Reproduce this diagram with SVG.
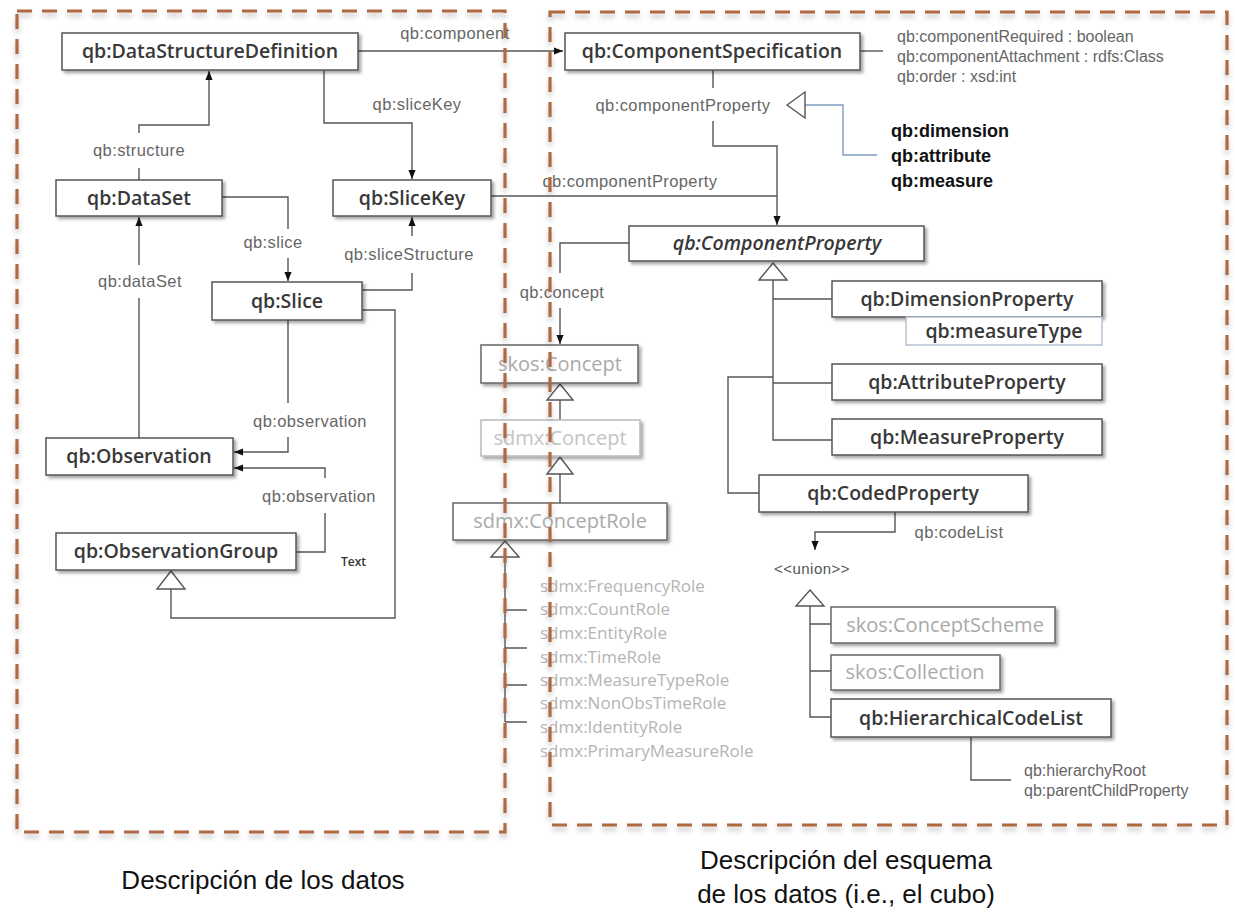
<svg xmlns="http://www.w3.org/2000/svg" width="1235" height="913" viewBox="0 0 1235 913">
<defs>
<style>
.box{fill:#fff;stroke:#555;stroke-width:1.5;filter:url(#sh)}
.lbox{fill:#fff;stroke:#666;stroke-width:1.5;filter:url(#sh)}
.vlbox{fill:#fff;stroke:#bbb;stroke-width:1.5;filter:url(#sh)}
.nt{font-family:"Open Sans",sans-serif;font-weight:600;font-size:19.5px;fill:#383838;text-anchor:middle}
.lt{font-family:"Open Sans",sans-serif;font-size:20px;fill:#aaa;text-anchor:middle}
.vlt{font-family:"Open Sans",sans-serif;font-size:20px;fill:#c4c4c4;text-anchor:middle}
.el{font-family:"Liberation Sans",Arial,sans-serif;font-size:16.5px;letter-spacing:0.4px;fill:#666;text-anchor:middle}
.at{font-family:"Liberation Sans",Arial,sans-serif;font-size:16px;fill:#666}
.bt{font-family:"Liberation Sans",Arial,sans-serif;font-size:18px;font-weight:bold;fill:#111}
.role{font-family:"Open Sans",sans-serif;font-size:17px;fill:#b4b4b4}
.cap{font-family:"Liberation Sans",Arial,sans-serif;font-size:26px;fill:#111;text-anchor:middle}
.c{fill:none;stroke:#555;stroke-width:1.4}
.tri{fill:#fff;stroke:#555;stroke-width:1.4}
.dash{fill:none;stroke:#b0693f;stroke-width:3.2;stroke-dasharray:15 10;filter:url(#dsh)}
</style>
<filter id="sh" x="-10%" y="-20%" width="120%" height="150%">
<feDropShadow dx="2.5" dy="2.5" stdDeviation="1.4" flood-color="#000" flood-opacity="0.35"/>
</filter>
<filter id="dsh" x="-5%" y="-5%" width="110%" height="110%">
<feDropShadow dx="0" dy="4" stdDeviation="2.5" flood-color="#777" flood-opacity="0.45"/>
</filter>
<marker id="arr" viewBox="0 0 10 10" refX="10" refY="5" markerWidth="9" markerHeight="9" markerUnits="userSpaceOnUse" orient="auto">
<path d="M0,1 L10,5 L0,9 z" fill="#111"/>
</marker>
</defs>
<rect width="1235" height="913" fill="#fff"/>

<g id="connectors">
<path class="c" d="M358,51 H563" marker-end="url(#arr)"/>
<text class="el" x="455" y="39">qb:component</text>
<path class="c" d="M139,180 V168 M139,133 V125 H209 V71" marker-end="url(#arr)"/>
<text class="el" x="139" y="156">qb:structure</text>
<path class="c" d="M324,70 V123 H412 V179" marker-end="url(#arr)"/>
<text class="el" x="417" y="110">qb:sliceKey</text>
<path class="c" d="M222,197 H288 V229 M288,258 V281" marker-end="url(#arr)"/>
<text class="el" x="273" y="248">qb:slice</text>
<path class="c" d="M362,290 H412 V273 M412,236 V217" marker-end="url(#arr)"/>
<text class="el" x="409" y="260">qb:sliceStructure</text>
<path class="c" d="M139,438 V298 M139,265 V217" marker-end="url(#arr)"/>
<text class="el" x="140" y="287">qb:dataSet</text>
<path class="c" d="M288,320 V403 M288,437 V452 H234" marker-end="url(#arr)"/>
<text class="el" x="310" y="427">qb:observation</text>
<path class="c" d="M296,552 H325 V513 M325,478 V468 H234" marker-end="url(#arr)"/>
<text class="el" x="319" y="502">qb:observation</text>
<path class="c" d="M362,310 H395 V618 H171 V589"/>
<path class="tri" d="M171,571 L185,589 L157,589 z"/>
<path class="c" d="M713,70 V88 M713,121 V146 H777 V225" marker-end="url(#arr)"/>
<text class="el" x="683" y="111">qb:componentProperty</text>
<path class="c" d="M491,196 H777"/>
<text class="el" x="630" y="187">qb:componentProperty</text>
<path d="M805,105 H843 V155 H877" fill="none" stroke="#7f9bbd" stroke-width="1.4"/>
<path class="tri" d="M787,105 L805,92 L805,118 z"/>
<path class="c" d="M860,51 H883"/>
<path class="c" d="M629,243 H560 V273 M560,308 V344" marker-end="url(#arr)"/>
<text class="el" x="562" y="298">qb:concept</text>
<path class="c" d="M560,400 V420"/>
<path class="tri" d="M560,384 L573,400 L547,400 z"/>
<path class="c" d="M560,474 V503"/>
<path class="tri" d="M560,457 L573,474 L547,474 z"/>
<path class="c" d="M505,557 V722 M505,610 H527 M505,648 H527 M505,685 H527 M505,722 H527"/>
<path class="tri" d="M505,541 L519,557 L491,557 z"/>
<path class="c" d="M773,280 V440 H832 M773,299 H832 M773,383 H832 M773,377 H728 V493 H759"/>
<path class="tri" d="M773,263 L787,280 L759,280 z"/>
<path class="c" d="M895,512 V532 H815 V550" marker-end="url(#arr)"/>
<text class="el" x="959" y="538">qb:codeList</text>
<path class="c" d="M810,606 V717 H831 M810,624 H831 M810,671 H831"/>
<path class="tri" d="M810,590 L824,606 L796,606 z"/>
<path class="c" d="M971,737 V780 H1011"/>
</g>

<g id="n-dsd"><rect class="box" x="62" y="33" width="296" height="37"/><text class="nt" x="210" y="58">qb:DataStructureDefinition</text></g>
<g id="n-dataset"><rect class="box" x="56" y="180" width="166" height="36"/><text class="nt" x="139" y="205">qb:DataSet</text></g>
<g id="n-slicekey"><rect class="box" x="333" y="180" width="158" height="36"/><text class="nt" x="412" y="205">qb:SliceKey</text></g>
<g id="n-slice"><rect class="box" x="212" y="282" width="150" height="38"/><text class="nt" x="287" y="308">qb:Slice</text></g>
<g id="n-observation"><rect class="box" x="46" y="438" width="187" height="37"/><text class="nt" x="139" y="463">qb:Observation</text></g>
<g id="n-obsgroup"><rect class="box" x="56" y="533" width="240" height="37"/><text class="nt" x="176" y="558">qb:ObservationGroup</text></g>
<g id="n-text"><text x="341" y="566" font-family="Open Sans, sans-serif" font-weight="600" font-size="12" fill="#333">Text</text></g>

<g id="n-compspec"><rect class="box" x="565" y="33" width="295" height="37"/><text class="nt" x="712" y="58">qb:ComponentSpecification</text></g>
<g id="n-attrs">
<text class="at" x="897" y="42">qb:componentRequired : boolean</text>
<text class="at" x="897" y="62">qb:componentAttachment : rdfs:Class</text>
<text class="at" x="897" y="82">qb:order : xsd:int</text>
</g>
<g id="n-props">
<text class="bt" x="891" y="137">qb:dimension</text>
<text class="bt" x="891" y="162">qb:attribute</text>
<text class="bt" x="891" y="187">qb:measure</text>
</g>
<g id="n-compprop"><rect class="box" x="629" y="226" width="295" height="35"/><text class="nt" x="777" y="250" font-style="italic">qb:ComponentProperty</text></g>
<g id="n-dimprop"><rect class="box" x="832" y="281" width="270" height="36"/><text class="nt" x="967" y="306">qb:DimensionProperty</text></g>
<g id="n-measuretype"><rect x="906" y="317" width="196" height="28" fill="#fff" stroke="#a9bacd" stroke-width="1.3"/><text class="nt" x="1004" y="338">qb:measureType</text></g>
<g id="n-attrprop"><rect class="box" x="832" y="364" width="270" height="36"/><text class="nt" x="967" y="389">qb:AttributeProperty</text></g>
<g id="n-measprop"><rect class="box" x="832" y="419" width="270" height="36"/><text class="nt" x="967" y="444">qb:MeasureProperty</text></g>
<g id="n-codedprop"><rect class="box" x="759" y="475" width="269" height="37"/><text class="nt" x="893" y="500">qb:CodedProperty</text></g>
<g id="n-union"><text x="812" y="574" font-family="Liberation Sans, Arial, sans-serif" font-size="15" letter-spacing="0.5" fill="#555" text-anchor="middle">&lt;&lt;union&gt;&gt;</text></g>
<g id="n-conceptscheme"><rect class="lbox" x="831" y="607" width="224" height="36"/><text class="lt" x="945" y="632">skos:ConceptScheme</text></g>
<g id="n-collection"><rect class="lbox" x="831" y="655" width="169" height="35"/><text class="lt" x="915" y="679">skos:Collection</text></g>
<g id="n-hcl"><rect class="box" x="831" y="699" width="280" height="38"/><text class="nt" x="971" y="725">qb:HierarchicalCodeList</text></g>
<g id="n-hclprops">
<text class="at" x="1024" y="776">qb:hierarchyRoot</text>
<text class="at" x="1024" y="796">qb:parentChildProperty</text>
</g>

<g id="n-skosconcept"><rect class="lbox" x="481" y="345" width="157" height="38"/><text class="lt" x="560" y="371">skos:Concept</text></g>
<g id="n-sdmxconcept"><rect class="vlbox" x="481" y="420" width="159" height="36"/><text class="vlt" x="560" y="445">sdmx:Concept</text></g>
<g id="n-conceptrole"><rect class="lbox" x="453" y="503" width="214" height="37"/><text class="lt" x="560" y="528">sdmx:ConceptRole</text></g>
<g id="n-roles">
<text class="role" x="540" y="592">sdmx:FrequencyRole</text>
<text class="role" x="540" y="615">sdmx:CountRole</text>
<text class="role" x="540" y="639">sdmx:EntityRole</text>
<text class="role" x="540" y="663">sdmx:TimeRole</text>
<text class="role" x="540" y="686">sdmx:MeasureTypeRole</text>
<text class="role" x="540" y="709">sdmx:NonObsTimeRole</text>
<text class="role" x="540" y="733">sdmx:IdentityRole</text>
<text class="role" x="540" y="757">sdmx:PrimaryMeasureRole</text>
</g>

<g id="regions">
<rect class="dash" x="17" y="11" width="488" height="821"/>
<rect class="dash" x="550" y="12" width="677" height="813"/>
<text class="cap" x="263" y="889">Descripción de los datos</text>
<text class="cap" x="846" y="869">Descripción del esquema</text>
<text class="cap" x="846" y="903">de los datos (i.e., el cubo)</text>
</g>
</svg>
